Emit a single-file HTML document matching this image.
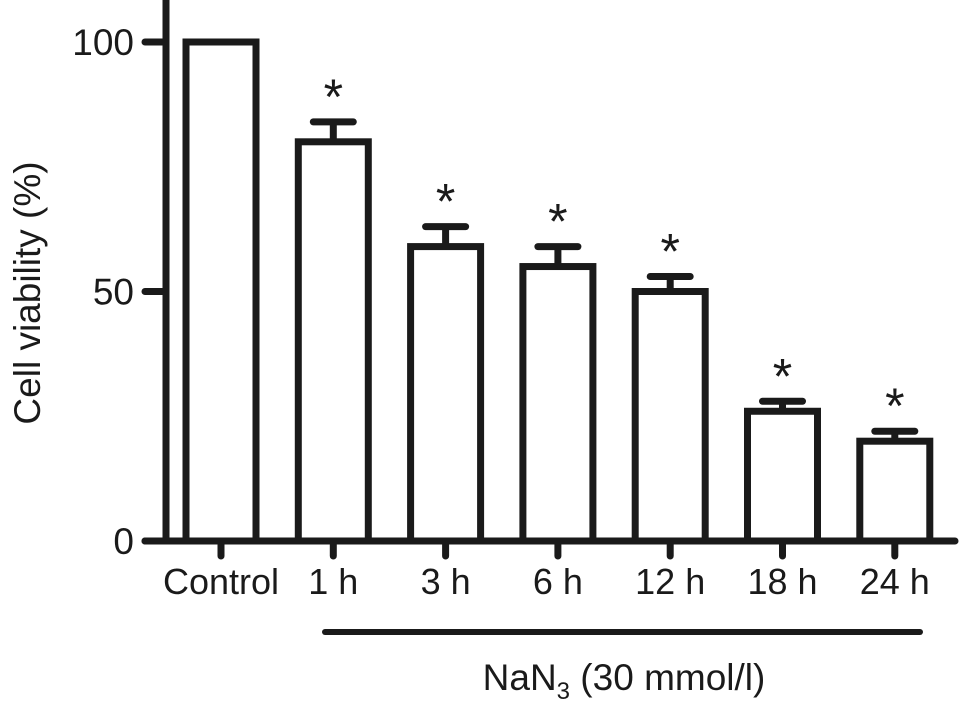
<!DOCTYPE html>
<html><head><meta charset="utf-8"><style>
html,body{margin:0;padding:0;background:#fff;}
svg{display:block;font-family:"Liberation Sans",Arial,sans-serif;}
</style></head><body>
<svg id="chart" width="969" height="718" viewBox="0 0 969 718" xmlns="http://www.w3.org/2000/svg">
<g id="axes"></g>
<g id="bars"></g>
<text transform="translate(40,293) rotate(-90)" text-anchor="middle" font-size="37" fill="#1a1a1a">Cell viability (%)</text>
<line x1="325" y1="632" x2="920" y2="632" stroke="#1a1a1a" stroke-width="6" stroke-linecap="round"/>
<text x="624" y="690" text-anchor="middle" font-size="37" fill="#1a1a1a">NaN<tspan font-size="24" dy="9">3</tspan><tspan dy="-9"> (30 mmol/l)</tspan></text>
</svg>
<script>
const categories = ["Control","1 h","3 h","6 h","12 h","18 h","24 h"];
const values = [100, 80, 59, 55, 50, 26, 20];
const errors = [0, 4, 4, 4, 3, 2, 2];
const significant = [false, true, true, true, true, true, true];
const yTicks = [0, 50, 100];

const NS = "http://www.w3.org/2000/svg";
const x0 = 221, step = 112.3, barW = 77;
function xPos(i){ return x0 + i*step; }
function yPos(v){ return 541 - v*4.99; }
function mk(tag, attrs, parent){ const e=document.createElementNS(NS,tag); for(const k in attrs) e.setAttribute(k,attrs[k]); parent.appendChild(e); return e; }
const axes=document.getElementById('axes'), bars=document.getElementById('bars');
const S="#1a1a1a";

let ya = mk('line',{x1:166,y1:0,x2:166,y2:541,stroke:S,'stroke-width':7},axes);


let xa = mk('line',{x1:145,y1:541,x2:955,y2:541,stroke:S,'stroke-width':7,'stroke-linecap':'round'},axes);



yTicks.forEach(t=>{
  const y=yPos(t);
  let tk = mk('line',{x1:145,y1:y,x2:166,y2:y,stroke:S,'stroke-width':7,'stroke-linecap':'round'},axes);
  
  
  let lb = mk('text',{x:134,y:y+13,'text-anchor':'end','font-size':37,fill:S},axes);
  lb.textContent=t;
  
  
});

categories.forEach((c,i)=>{
  const cx=xPos(i), top=yPos(values[i]);
  let tk = mk('line',{x1:cx,y1:541,x2:cx,y2:556,stroke:S,'stroke-width':7,'stroke-linecap':'round'},axes);
  
  
  let lb = mk('text',{x:cx,y:594,'text-anchor':'middle','font-size':36,fill:S},axes);
  lb.textContent=c;
  
  
  if(errors[i]>0){
    const et=yPos(values[i]+errors[i]);
    let ev = mk('line',{x1:cx,y1:top,x2:cx,y2:et,stroke:S,'stroke-width':7},bars);
    
    
    let cap = mk('line',{x1:cx-20,y1:et,x2:cx+20,y2:et,stroke:S,'stroke-width':7,'stroke-linecap':'round'},bars);
    
    
  }
  let r = mk('rect',{x:cx-barW/2+3.5,y:top,width:barW-7,height:541-top,fill:'#fff',stroke:S,'stroke-width':7},bars);
  
  
  if(significant[i]){
    const et=yPos(values[i]+errors[i]);
    let st = mk('text',{x:cx,y:et-8,'text-anchor':'middle','font-size':50,fill:S},bars);
    st.textContent='*';
    
    
  }
});
</script>
</body></html>
